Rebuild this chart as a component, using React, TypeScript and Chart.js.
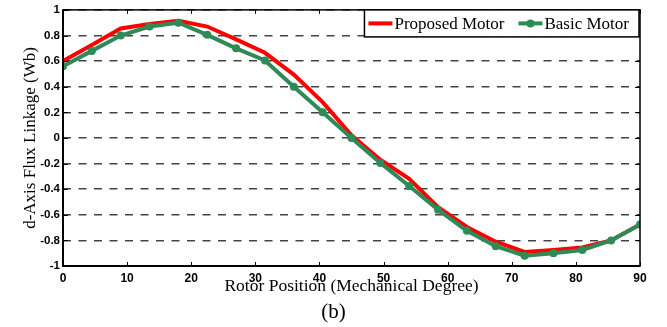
import React, { useEffect, useRef } from 'react';
import { Chart, registerables } from 'chart.js';
Chart.register(...registerables);

const positions = [0, 4.5, 9, 13.5, 18, 22.5, 27, 31.5, 36, 40.5, 45, 49.5, 54, 58.5, 63, 67.5, 72, 76.5, 81, 85.5, 90];
const proposed = [0.60, 0.725, 0.855, 0.89, 0.915, 0.87, 0.77, 0.665, 0.495, 0.28, 0.02, -0.17, -0.32, -0.54, -0.695, -0.81, -0.89, -0.875, -0.855, -0.80, -0.675];
const basic = [0.56, 0.68, 0.80, 0.87, 0.90, 0.805, 0.70, 0.605, 0.40, 0.20, 0.0, -0.195, -0.375, -0.56, -0.725, -0.845, -0.92, -0.90, -0.875, -0.80, -0.675];
const seriesLabels = ['Proposed Motor', 'Basic Motor'];
const xTicks = [0, 10, 20, 30, 40, 50, 60, 70, 80, 90];
const yTicks = [-1, -0.8, -0.6, -0.4, -0.2, 0, 0.2, 0.4, 0.6, 0.8, 1];
const xTitle = 'Rotor Position (Mechanical Degree)';
const yTitle = 'd-Axis Flux Linkage (Wb)';
const caption = '(b)';

const RED = '#ff0000';
const GREEN = '#2e8b57';
const SERIF = '"Liberation Serif", "Times New Roman", serif';
const SANS = '"Liberation Sans", Arial, sans-serif';

const decorPlugin = {
  id: 'decor',
  afterDatasetsDraw(chart: any) {
    const { ctx, chartArea: a, scales } = chart;
    ctx.save();
    ctx.strokeStyle = '#000';
    ctx.lineWidth = 1;
    ctx.beginPath();
    xTicks.forEach((t) => {
      const px = Math.round(scales.x.getPixelForValue(t)) + 0.5;
      ctx.moveTo(px, a.bottom);
      ctx.lineTo(px, a.bottom - 4);
      ctx.moveTo(px, a.top);
      ctx.lineTo(px, a.top + 4);
    });
    yTicks.forEach((t) => {
      const py = Math.round(scales.y.getPixelForValue(t)) + 0.5;
      ctx.moveTo(a.right, py);
      ctx.lineTo(a.right - 5, py);
      ctx.moveTo(a.left, py);
      ctx.lineTo(a.left + 5, py);
    });
    ctx.stroke();
    ctx.lineWidth = 1.5;
    ctx.strokeRect(a.left, a.top, a.right - a.left, a.bottom - a.top);
    ctx.lineWidth = 2;
    ctx.beginPath();
    ctx.moveTo(a.left, a.top);
    ctx.lineTo(a.left, a.bottom);
    ctx.lineTo(a.right, a.bottom);
    ctx.stroke();
    ctx.restore();
  },
  afterDraw(chart: any) {
    const { ctx, chartArea: a, data } = chart;
    ctx.save();
    ctx.font = `17px ${SERIF}`;
    const ds = data.datasets;
    const sample = 24;
    const gapText = 2;
    const widths = ds.map((d: any) => ctx.measureText(d.label).width);
    const total = 4 + (sample + gapText + widths[0]) + 14 + (sample + gapText + widths[1]) + 10;
    const right = a.right - 1;
    const top = a.top;
    const left = right - total;
    const h = 27;
    ctx.fillStyle = '#fff';
    ctx.fillRect(left, top, total, h);
    ctx.strokeStyle = '#000';
    ctx.lineWidth = 1.5;
    ctx.strokeRect(left, top, total, h);
    let x = left + 4;
    const cy = top + h / 2;
    ds.forEach((d: any, i: number) => {
      ctx.strokeStyle = d.borderColor;
      ctx.lineWidth = 4;
      ctx.beginPath();
      ctx.moveTo(x, cy);
      ctx.lineTo(x + sample, cy);
      ctx.stroke();
      if (d.pointRadius > 0) {
        ctx.fillStyle = d.borderColor;
        ctx.beginPath();
        ctx.arc(x + sample / 2, cy, 4, 0, Math.PI * 2);
        ctx.fill();
      }
      x += sample + gapText;
      ctx.fillStyle = '#000';
      ctx.textAlign = 'left';
      ctx.textBaseline = 'middle';
      ctx.fillText(d.label, x, cy + 1);
      x += widths[i] + 14;
    });
    ctx.font = `21px ${SERIF}`;
    ctx.fillStyle = '#000';
    ctx.textAlign = 'center';
    ctx.textBaseline = 'middle';
    ctx.fillText(caption, chart.width / 2, 312);
    ctx.restore();
  },
};

export default function App() {
  const ref = useRef<HTMLCanvasElement>(null);
  useEffect(() => {
    document.body.style.margin = '0';
    const chart = new Chart(ref.current!, {
      type: 'line',
      data: {
        datasets: [
          {
            label: seriesLabels[0],
            data: positions.map((x, i) => ({ x, y: proposed[i] })),
            borderColor: RED,
            backgroundColor: RED,
            borderWidth: 4,
            pointRadius: 0,
            tension: 0,
            order: 1,
          },
          {
            label: seriesLabels[1],
            data: positions.map((x, i) => ({ x, y: basic[i] })),
            borderColor: GREEN,
            backgroundColor: GREEN,
            borderWidth: 4,
            pointRadius: 4,
            pointBorderWidth: 0,
            tension: 0,
            order: 0,
          },
        ],
      },
      options: {
        responsive: false,
        animation: false,
        devicePixelRatio: 1,
        layout: { padding: { top: 6, right: 27, left: 0, bottom: 0 } },
        plugins: { legend: { display: false }, tooltip: { enabled: false }, title: { display: false } },
        scales: {
          x: {
            type: 'linear',
            min: 0,
            max: 90,
            afterFit: (s: any) => { s.height = 61; },
            afterBuildTicks: (s: any) => { s.ticks = xTicks.map((v) => ({ value: v })); },
            grid: { display: false, drawTicks: false },
            border: { display: false },
            ticks: {
              padding: 5,
              color: '#000',
              font: { family: SANS, size: 12, weight: 'bold' },
              maxRotation: 0,
            },
            title: {
              display: true,
              text: xTitle,
              color: '#000',
              font: { family: SERIF, size: 17.5 },
              padding: { top: 0, bottom: 30 },
            },
          },
          y: {
            type: 'linear',
            min: -1,
            max: 1,
            afterFit: (s: any) => { s.width = 63; },
            afterBuildTicks: (s: any) => { s.ticks = yTicks.map((v) => ({ value: v })); },
            grid: { display: true, drawTicks: false, color: '#444', lineWidth: 1.4 },
            border: { display: false, dash: [8, 7.5] },
            ticks: {
              padding: 3,
              color: '#000',
              font: { family: SANS, size: 11.5, weight: 'bold' },
              callback: (v: any) => String(Number(Number(v).toFixed(1))),
            },
            title: {
              display: true,
              text: yTitle,
              color: '#000',
              font: { family: SERIF, size: 17 },
              padding: { top: 20, bottom: 0 },
            },
          },
        },
      },
      plugins: [decorPlugin],
    } as any);
    return () => chart.destroy();
  }, []);
  return (
    <div style={{ position: 'fixed', left: 0, top: 0, width: 667, height: 327, background: '#fff' }}>
      <canvas ref={ref} width={667} height={327} />
    </div>
  );
}
